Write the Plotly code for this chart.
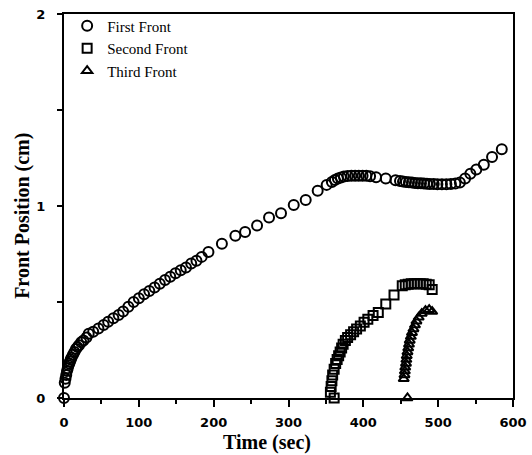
import plotly.graph_objects as go

# ---- data ----
first_t = [0, 1, 2, 3, 4, 5, 6, 7, 8, 9, 10, 12, 14, 16, 18, 20, 23, 26, 30,
           33, 39, 46, 53, 59, 66, 73, 79, 86, 93, 100, 107, 114, 121, 128,
           135, 142, 149, 156, 163, 170, 177, 184, 193, 211, 229, 242, 258,
           274, 290, 307, 323, 339, 351, 358, 362, 366, 370, 374, 379, 384,
           389, 394, 399, 404, 409, 417, 430, 443, 449, 453, 457, 461, 465,
           469, 473, 477, 481, 485, 489, 494, 499, 505, 511, 517, 523, 529,
           536, 543, 551, 561, 572, 585]
first_v = [0, 0.08, 0.10, 0.12, 0.14, 0.155, 0.17, 0.18, 0.19, 0.20, 0.21,
           0.225, 0.24, 0.255, 0.265, 0.275, 0.29, 0.30, 0.315,
           0.335, 0.345, 0.362, 0.38, 0.397, 0.415, 0.432, 0.45, 0.475, 0.50,
           0.52, 0.54, 0.557, 0.575, 0.595, 0.615, 0.632, 0.65, 0.665, 0.68,
           0.70, 0.715, 0.735, 0.76, 0.803, 0.845, 0.864, 0.898, 0.94, 0.962,
           1.005, 1.031, 1.08, 1.11, 1.125, 1.135, 1.143, 1.149, 1.153, 1.156,
           1.158, 1.158, 1.158, 1.158, 1.157, 1.155, 1.15, 1.143, 1.134, 1.13,
           1.127, 1.125, 1.124, 1.122, 1.12, 1.119, 1.118, 1.117, 1.116, 1.115,
           1.114, 1.113, 1.113, 1.113, 1.114, 1.117, 1.122, 1.143, 1.168,
           1.19, 1.215, 1.255, 1.296]

second_t = [361, 356, 357, 358, 359, 361, 363, 365, 367, 369, 371, 373, 376,
            379, 383, 387, 391, 396, 401, 406, 413, 420, 430, 441, 452, 456,
            460, 464, 468, 472, 476, 480, 484, 488, 492]
second_v = [0, 0.03, 0.06, 0.09, 0.12, 0.15, 0.18, 0.20, 0.22, 0.24, 0.26,
            0.28, 0.30, 0.315, 0.33, 0.345, 0.36, 0.375, 0.395, 0.41, 0.43,
            0.445, 0.49, 0.536, 0.585, 0.59, 0.593, 0.595, 0.595, 0.595, 0.595,
            0.595, 0.593, 0.59, 0.565]

third_t = [459, 454, 455, 455.5, 456, 457, 457.5, 458, 459, 460, 461, 462,
           463.5, 465, 467, 469, 471, 474, 478, 483, 488, 492]
third_v = [0, 0.10, 0.12, 0.14, 0.16, 0.18, 0.20, 0.22, 0.24, 0.26, 0.28,
           0.30, 0.32, 0.34, 0.36, 0.38, 0.40, 0.42, 0.44, 0.455, 0.46, 0.45]

x_ticks = [0, 100, 200, 300, 400, 500, 600]
y_ticks = [0, 1, 2]

fig = go.Figure()
series = [("First Front", first_t, first_v, "circle-open", 10),
          ("Second Front", second_t, second_v, "square-open", 9),
          ("Third Front", third_t, third_v, "triangle-up-open", 9)]
for name, xs, ys, sym, sz in series:
    fig.add_trace(go.Scatter(
        x=xs, y=ys, mode="markers", name=name, cliponaxis=False,
        marker=dict(symbol=sym, size=sz, color="black",
                    line=dict(width=2, color="black"))))

axis_common = dict(showline=True, linewidth=2, linecolor="black", mirror=True,
                   ticks="outside", tickwidth=1.5, tickcolor="black",
                   showgrid=False, zeroline=False, automargin=False,
                   tickfont=dict(family="DejaVu Sans", size=13, color="black",
                                 weight="bold"))
fig.update_xaxes(range=[0, 600], tickvals=x_ticks, ticklen=7,
                 ticklabelstandoff=4,
                 minor=dict(dtick=50, ticklen=4, ticks="outside",
                            tickcolor="black", tickwidth=1.5),
                 **axis_common)
fig.update_yaxes(range=[0, 2], tickvals=y_ticks, ticklen=5,
                 ticklabelstandoff=9,
                 minor=dict(dtick=0.5, ticklen=5, ticks="outside",
                            tickcolor="black", tickwidth=1.5),
                 **axis_common)

fig.update_layout(
    width=532, height=455,
    margin=dict(l=64, r=19, t=14, b=57, autoexpand=False),
    plot_bgcolor="white", paper_bgcolor="white",
    showlegend=True,
    legend=dict(x=0.007, y=1.012, xanchor="left", yanchor="top",
                bgcolor="rgba(0,0,0,0)", itemwidth=30,
                font=dict(family="Liberation Serif", size=15, color="black")),
    annotations=[
        dict(text="<b>Time (sec)</b>", xref="paper", yref="paper",
             x=0.452, y=-0.115, xanchor="center", yanchor="middle",
             showarrow=False,
             font=dict(family="Liberation Serif", size=20, color="black")),
        dict(text="<b>Front Position (cm)</b>", xref="paper", yref="paper",
             x=-0.093, y=0.475, xanchor="center", yanchor="middle",
             textangle=-90, showarrow=False,
             font=dict(family="Liberation Serif", size=20, color="black")),
    ],
)

fig.write_html("out.html", config={"displayModeBar": False},
               post_script="document.body.style.margin='0';"
                           "document.body.style.overflow='hidden';")
